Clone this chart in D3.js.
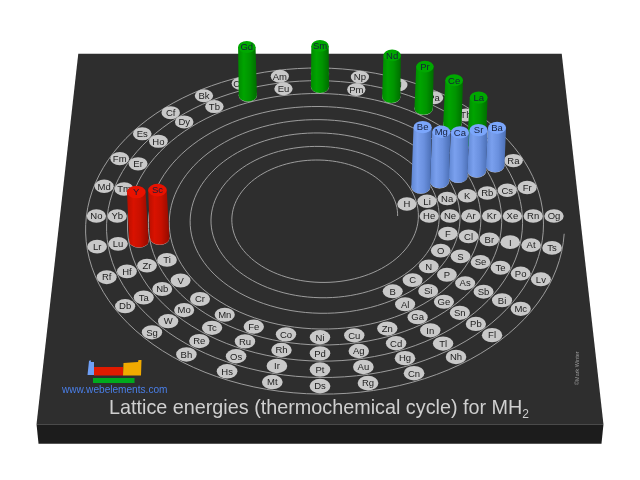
<!DOCTYPE html>
<html><head><meta charset="utf-8">
<style>html,body{margin:0;padding:0;background:#fff}svg{display:block;filter:blur(0.45px)}</style>
<script src="https://cdn.jsdelivr.net/npm/d3@7"></script>
</head><body><svg id="c" width="640" height="480"></svg>
<script>
// ---- data ----
const period1=["H","He"];
const period2=["Li","Be","B","C","N","O","F","Ne"];
const period3=["Na","Mg","Al","Si","P","S","Cl","Ar"];
const period4=["K","Ca","Sc","Ti","V","Cr","Mn","Fe","Co","Ni","Cu","Zn","Ga","Ge","As","Se","Br","Kr"];
const period5=["Rb","Sr","Y","Zr","Nb","Mo","Tc","Ru","Rh","Pd","Ag","Cd","In","Sn","Sb","Te","I","Xe"];
const period6=["Cs","Ba","La","Ce","Pr","Nd","Pm","Sm","Eu","Gd","Tb","Dy","Ho","Er","Tm","Yb","Lu","Hf","Ta","W","Re","Os","Ir","Pt","Au","Hg","Tl","Pb","Bi","Po","At","Rn"];
const period7=["Fr","Ra","Ac","Th","Pa","U","Np","Pu","Am","Cm","Bk","Cf","Es","Fm","Md","No","Lr","Rf","Db","Sg","Bh","Hs","Mt","Ds","Rg","Cn","Nh","Fl","Mc","Lv","Ts","Og"];
const periods=[period1,period2,period3,period4,period5,period6,period7];
const barSymbols=["Be","Mg","Ca","Sr","Ba","Sc","Y","La","Ce","Pr","Nd","Sm","Gd"];
const barValues=[3220,2690,2374,2217,2060,2520,2570,2517,2430,2336,2320,2300,2710];
const barBlocks=["s","s","s","s","s","d","d","f","f","f","f","f","f"];
const titleText="Lattice energies (thermochemical cycle) for MH";

// ---- projection of the tilted plate ----
const cx=320,cy=216,persp=0.0003,tilt=0.6924;
const proj=(X,Y)=>{const w=1+Y*persp;return {x:cx+X/w,y:cy-Y*tilt/w,w};};
const SLOTS=32,STEP=360/SLOTS,TURN=20.8;
const rElem=d3.scaleLinear().domain([0,360]).range([88.4,88.4+TURN]);
const slotOf=(n,i)=>{
  if(n===2) return i===0?0:31;
  if(n===32) return i;
  const first=(n===8)?26:16;
  return i<2?i:first+(i-2);
};
const toRad=d3.scaleLinear().domain([0,360]).range([0,2*Math.PI]);
const elements=[];
periods.forEach((list,p)=>list.forEach((s,i)=>{
  const slot=slotOf(list.length,i),th=(slot+1)*STEP;
  const r=rElem(th)+TURN*p,a=toRad(th);
  const X=r*Math.cos(a),Y=r*Math.sin(a);
  elements.push({s,X,Y,...proj(X,Y)});
}));
const bySym=new Map(elements.map(e=>[e.s,e]));

const svg=d3.select("#c");
const defs=svg.append("defs");

// ---- plate ----
const pL=260,pB=-276,pT=252;
const lineG=d3.line().x(d=>d.x).y(d=>d.y);
const c=[proj(-pL,pT),proj(pL,pT),proj(pL,pB),proj(-pL,pB)];
const depth=19.5;
svg.append("path").attr("fill","#1c1c1c")
  .attr("d",lineG([c[3],c[2],{x:c[2].x-2,y:c[2].y+depth},{x:c[3].x+2,y:c[3].y+depth}])+"Z");
svg.append("path").attr("fill","#2e2e2e").attr("d",lineG(c)+"Z");

// ---- spiral ----
const rLine=d3.scaleLinear().domain([0,360]).range([77.6,77.6+TURN]);
const spiral=d3.range(0,8*360-5,3).map(t=>{const r=rLine(t),a=toRad(t);return proj(r*Math.cos(a),r*Math.sin(a));});
svg.append("path").attr("fill","none").attr("stroke","#a2a2a2").attr("stroke-width",0.95)
  .attr("d",d3.line().x(d=>d.x).y(d=>d.y).curve(d3.curveLinear)(spiral));

// ---- element discs ----
const discR=9.7,labelFont="'Liberation Sans',Arial,sans-serif",labelSize=9.5;
const g=svg.append("g").selectAll("g").data(elements).join("g")
  .attr("transform",d=>`translate(${d.x},${d.y})`);
g.append("ellipse").attr("rx",d=>discR/d.w).attr("ry",d=>discR*0.7/d.w).attr("fill","#c9c9c9");
g.append("text").text(d=>d.s).attr("text-anchor","middle").attr("y",3.3)
  .attr("font-family",labelFont).attr("font-size",labelSize).attr("fill","#222");

// ---- cylinders ----
const blockColors={
  s:{top:"#7ba6fb",stops:["#5f86d2","#7aa0ee","#6a90de","#4a6eb4"]},
  d:{top:"#e81200",stops:["#b50f00","#d91200","#c81000","#930b00"]},
  f:{top:"#00a800",stops:["#008a00","#00a400","#009400","#006c00"]}
};
Object.entries(blockColors).forEach(([k,v])=>{
  const lg=defs.append("linearGradient").attr("id","g"+k);
  [0,0.3,0.62,1].forEach((o,i)=>lg.append("stop").attr("offset",o).attr("stop-color",v.stops[i]));
});
const hScale=d3.scaleLinear().domain([0,3500]).range([0,66]);
const bars=barSymbols.map((s,i)=>({s,v:barValues[i],b:barBlocks[i],e:bySym.get(s)}))
  .sort((a,b)=>b.e.Y-a.e.Y);
const bg=svg.append("g").selectAll("g").data(bars).join("g");
const rb=9.6,rt=9.2;
bg.append("path").attr("fill",d=>`url(#g${d.b})`).attr("d",d=>{
  const h=hScale(d.v)/d.e.w,bx=d.e.x,by=d.e.y,rB=rb/d.e.w,rT=rt/d.e.w;
  const tx=cx+(bx-cx)*(1+h*0.0003),ty=by-h,ryB=rB*0.68;
  return `M${bx-rB},${by}L${tx-rT},${ty}L${tx+rT},${ty}L${bx+rB},${by}A${rB},${ryB} 0 0 1 ${bx-rB},${by}Z`;
});
const topPos=d=>{const h=hScale(d.v)/d.e.w;return {x:cx+(d.e.x-cx)*(1+h*0.0003),y:d.e.y-h};};
bg.append("ellipse").attr("cx",d=>topPos(d).x).attr("cy",d=>topPos(d).y)
  .attr("rx",d=>rt/d.e.w).attr("ry",d=>rt*0.68/d.e.w).attr("fill",d=>blockColors[d.b].top);
bg.append("text").text(d=>d.s).attr("x",d=>topPos(d).x).attr("y",d=>topPos(d).y+3.3)
  .attr("text-anchor","middle").attr("font-family",labelFont).attr("font-size",labelSize).attr("fill","#16203a");

// ---- logo ----
const logo=svg.append("g");
logo.append("path").attr("fill","#6f9ff5").attr("d","M87.5,375 L89,361 L90.5,360 L91,362 L94,362 L94,375 Z");
logo.append("rect").attr("x",94).attr("y",367).attr("width",29).attr("height",8.5).attr("fill","#e01a00");
logo.append("path").attr("fill","#f0aa00").attr("d","M123,375.5 L123.5,363 L138,362 L138.5,360 L141.5,360 L141,375.5 Z");
logo.append("rect").attr("x",93).attr("y",378).attr("width",41.5).attr("height",5).attr("fill","#00aa1e");
svg.append("text").text("www.webelements.com").attr("x",62).attr("y",393)
  .attr("font-family",labelFont).attr("font-size",10.1).attr("fill","#4a7fe8");

// ---- title and credit ----
const t=svg.append("text").attr("x",109).attr("y",414).attr("font-family",labelFont)
  .attr("font-size",19.8).attr("fill","#cfcfcf");
t.append("tspan").text(titleText);
t.append("tspan").text("2").attr("font-size",12).attr("dy",4);
svg.append("text").text("©Mark Winter").attr("transform","translate(579,385) rotate(-90)")
  .attr("font-family",labelFont).attr("font-size",5.5).attr("fill","#999");
</script></body></html>
